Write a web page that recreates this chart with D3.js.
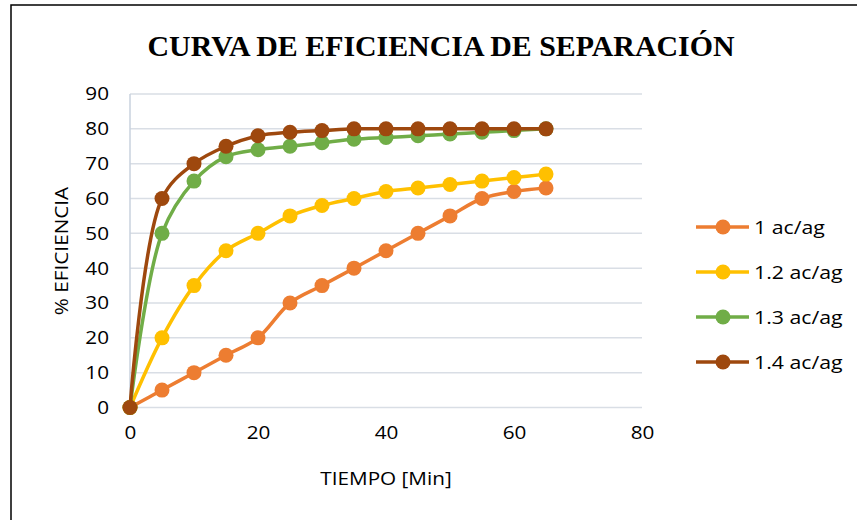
<!DOCTYPE html>
<html><head><meta charset="utf-8">
<script src="https://cdn.jsdelivr.net/npm/d3@7"></script>
<style>body{margin:0;background:#fff}svg{display:block}</style>
</head><body>
<svg id="c" width="857" height="520"></svg>
<script>
const times = [0,5,10,15,20,25,30,35,40,45,50,55,60,65];
const seriesNames = ["1 ac/ag","1.2 ac/ag","1.3 ac/ag","1.4 ac/ag"];
const s1 = [0,5,10,15,20,30,35,40,45,50,55,60,62,63];
const s12 = [0,20,35,45,50,55,58,60,62,63,64,65,66,67];
const s13 = [0,50,65,72,74,75,76,77,77.5,78,78.5,79,79.5,80];
const s14 = [0,60,70,75,78,79,79.5,80,80,80,80,80,80,80];
const colors = ["#ED7D31","#FFC000","#70AD47","#9E480E"];
const xTicks = [0,20,40,60,80];
const yTicks = [0,10,20,30,40,50,60,70,80,90];

const SX = 1.12;
const svg = d3.select("#c");
const font = "'Open Sans', Lato, sans-serif";
svg.append("rect").attr("x",11).attr("y",5).attr("width",870).attr("height",540)
  .attr("fill","#fff").attr("stroke","#000").attr("stroke-width",1.5);

svg.append("text").attr("x",441).attr("y",56).attr("text-anchor","middle")
  .attr("font-family","'Liberation Serif', 'Times New Roman', serif").attr("font-weight","bold")
  .attr("font-size",29.5).attr("textLength",587).attr("lengthAdjust","spacingAndGlyphs")
  .text("CURVA DE EFICIENCIA DE SEPARACIÓN");

const x = d3.scaleLinear().domain([0,80]).range([130,642]);
const y = d3.scaleLinear().domain([0,90]).range([407.5,94]);

const g = svg.append("g");
g.selectAll("line.grid").data(yTicks).enter().append("line")
  .attr("x1",x(0)).attr("x2",x(80)).attr("y1",d=>y(d)).attr("y2",d=>y(d))
  .attr("stroke","#D9DEE5").attr("stroke-width",1.5);
g.append("line").attr("x1",x(0)).attr("x2",x(0)).attr("y1",y(0)).attr("y2",y(90))
  .attr("stroke","#C9D2DE").attr("stroke-width",1.5);

const yAxis = d3.axisLeft(y).tickValues(yTicks).tickSize(0).tickPadding(21);
const ya = svg.append("g").attr("transform",`translate(${x(0)},0)`).call(yAxis);
ya.select(".domain").remove();
ya.selectAll("text").attr("font-family",font).attr("font-size",18.5).attr("fill","#000")
  .attr("transform",`translate(-21,0) scale(${SX},1) translate(21,0)`);

const xAxis = d3.axisBottom(x).tickValues(xTicks).tickSize(0).tickPadding(18);
const xa = svg.append("g").attr("transform",`translate(0,${y(0)})`).call(xAxis);
xa.select(".domain").remove();
xa.selectAll("text").attr("font-family",font).attr("font-size",18.5).attr("fill","#000")
  .attr("transform",`scale(${SX},1)`);

svg.append("text").attr("transform",`translate(386,485) scale(${SX},1)`).attr("text-anchor","middle")
  .attr("font-family",font).attr("font-size",18.5).text("TIEMPO [Min]");
svg.append("text").attr("transform",`translate(68,251) rotate(-90) scale(${SX},1)`).attr("text-anchor","middle")
  .attr("font-family",font).attr("font-size",18.5).text("% EFICIENCIA");

const data = [s1,s12,s13,s14];
const line = d3.line().x((d,i)=>x(times[i])).y(d=>y(d)).curve(d3.curveCatmullRom.alpha(0.5));
data.forEach((s,k)=>{
  const sg = svg.append("g");
  sg.append("path").attr("d",line(s)).attr("fill","none").attr("stroke",colors[k])
    .attr("stroke-width",3.5).attr("stroke-linejoin","round");
  sg.selectAll("circle").data(s).enter().append("circle")
    .attr("cx",(d,i)=>x(times[i])).attr("cy",d=>y(d)).attr("r",7.5).attr("fill",colors[k]);
});

const legY = [227,272,317,362];
seriesNames.forEach((n,k)=>{
  const lg = svg.append("g");
  lg.append("line").attr("x1",696).attr("x2",749).attr("y1",legY[k]).attr("y2",legY[k])
    .attr("stroke",colors[k]).attr("stroke-width",3.5);
  lg.append("circle").attr("cx",723).attr("cy",legY[k]).attr("r",7.5).attr("fill",colors[k]);
  lg.append("text").attr("transform",`translate(754,${legY[k]+7}) scale(${SX},1)`).attr("font-family",font)
    .attr("font-size",19).text(n);
});
</script>
</body></html>
